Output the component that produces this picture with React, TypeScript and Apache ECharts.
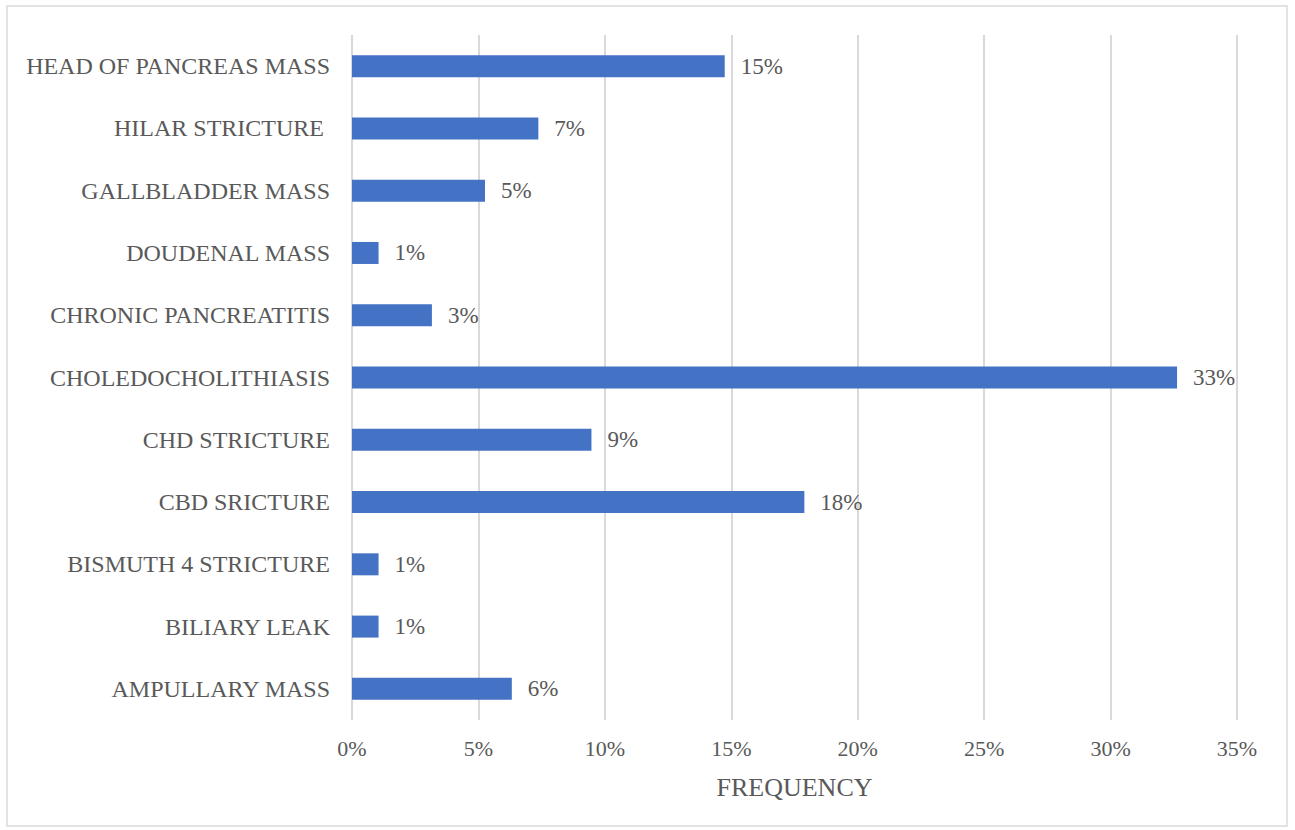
import React, { useEffect, useRef } from "react";
import * as echarts from "echarts";

const categories = [
  "HEAD OF PANCREAS MASS",
  "HILAR STRICTURE ",
  "GALLBLADDER MASS",
  "DOUDENAL MASS",
  "CHRONIC PANCREATITIS",
  "CHOLEDOCHOLITHIASIS",
  "CHD STRICTURE",
  "CBD SRICTURE",
  "BISMUTH 4 STRICTURE",
  "BILIARY LEAK",
  "AMPULLARY MASS",
];
const frequency = [14.74, 7.37, 5.26, 1.05, 3.16, 32.63, 9.47, 17.89, 1.05, 1.05, 6.32];
const xTicks = [0, 5, 10, 15, 20, 25, 30, 35];
const axisName = "FREQUENCY";

const FONT = "'Liberation Serif', 'Times New Roman', serif";
const TEXT = "#595959";

export default function App() {
  const ref = useRef<HTMLDivElement>(null);
  useEffect(() => {
    if (!ref.current) return;
    const chart = echarts.init(ref.current, null, { renderer: "svg" });
    chart.setOption({
      animation: false,
      backgroundColor: "#ffffff",
      textStyle: { fontFamily: FONT },
      graphic: [
        {
          type: "rect",
          shape: { x: 7, y: 6, width: 1280, height: 820 },
          style: { fill: "none", stroke: "#d9d9d9", lineWidth: 1.5 },
          silent: true,
        },
      ],
      grid: { left: 352, right: 58, top: 35, bottom: 110, containLabel: false },
      xAxis: {
        type: "value",
        min: xTicks[0],
        max: xTicks[xTicks.length - 1],
        interval: 5,
        name: axisName,
        nameLocation: "middle",
        nameGap: 54,
        nameTextStyle: { fontFamily: FONT, fontSize: 26, color: TEXT },
        axisLine: { show: false },
        axisTick: { show: false },
        axisLabel: {
          formatter: (v: number) => `${v}%`,
          fontFamily: FONT,
          fontSize: 22,
          color: TEXT,
          margin: 17,
        },
        splitLine: { show: true, lineStyle: { color: "#d9d9d9", width: 2 } },
      },
      yAxis: {
        type: "category",
        data: categories,
        inverse: true,
        axisLine: { show: false },
        axisTick: { show: false },
        axisLabel: {
          fontFamily: FONT,
          fontSize: 24,
          color: TEXT,
          margin: 22,
        },
        splitLine: { show: false },
      },
      series: [
        {
          type: "bar",
          data: frequency,
          barWidth: 22,
          itemStyle: { color: "#4472c4" },
          label: {
            show: true,
            position: "right",
            distance: 16,
            formatter: (p: any) => `${Math.round(p.value)}%`,
            fontFamily: FONT,
            fontSize: 23,
            color: TEXT,
          },
        },
      ],
    });
    return () => chart.dispose();
  }, []);
  return (
    <div
      ref={ref}
      style={{ position: "absolute", left: 0, top: 0, width: 1295, height: 830 }}
    />
  );
}
